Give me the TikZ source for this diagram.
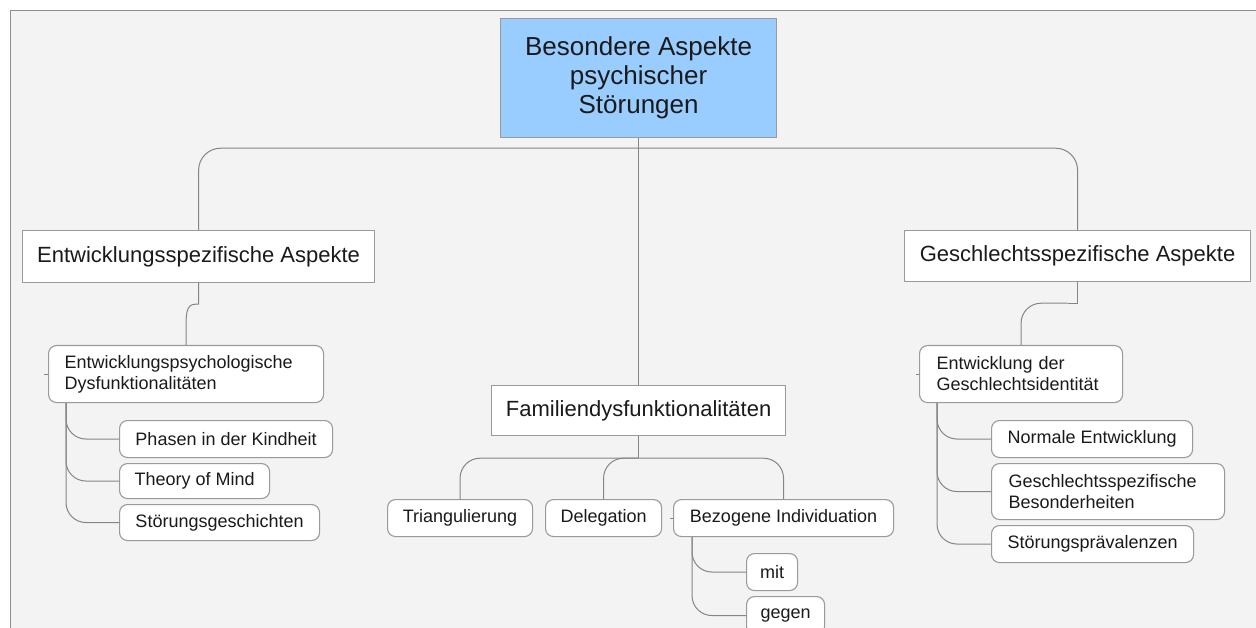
\documentclass[tikz,border=0pt]{standalone}
\usepackage{fontspec}
\setmainfont{Liberation Sans}
\usetikzlibrary{calc}
\definecolor{panel}{HTML}{F3F3F3}
\definecolor{pborder}{HTML}{8E8E8E}
\definecolor{bborder}{HTML}{9A9A9A}
\definecolor{rootfill}{HTML}{99CCFF}
\definecolor{conncol}{HTML}{858585}
\definecolor{txt}{HTML}{1A1A1A}
\tikzset{
  rootbox/.style={draw=bborder, fill=rootfill, line width=1.2pt, text=txt, inner sep=0pt,
    anchor=north west, align=center, font=\fontsize{26}{29}\selectfont},
  lvlone/.style={draw=bborder, fill=white, line width=1.2pt, text=txt, inner sep=0pt,
    anchor=north west, align=center, font=\fontsize{22}{26}\selectfont},
  lvltwo/.style={draw=bborder, fill=white, line width=1.1pt, rounded corners=8pt, text=txt,
    inner sep=0pt, anchor=north west, align=center, font=\fontsize{18}{21}\selectfont},
  twoline/.style={lvltwo, align=left, inner xsep=16pt},
  conn/.style={draw=conncol, line width=1pt},
}
\begin{document}
\begin{tikzpicture}[x=1pt,y=-1pt]
\useasboundingbox (0,0) rectangle (1256,628);
\clip (0,0) rectangle (1256,628);
\fill[white] (0,0) rectangle (1256,628);
\fill[panel] (10,11) rectangle (1260,632);
\draw[pborder, line width=1pt] (10,632) -- (10,11) -- (1260,11);

% nodes
\node[rootbox, minimum width=276pt, minimum height=119pt] (root) at (500,18)
  {Besondere Aspekte\\psychischer\\Störungen};
\node[lvlone, minimum width=352pt, minimum height=52pt] (entw) at (22,230) {Entwicklungsspezifische Aspekte};
\node[lvlone, minimum width=346pt, minimum height=51pt] (geschl) at (904,230) {Geschlechtsspezifische Aspekte};
\node[lvlone, minimum width=294pt, minimum height=50pt] (famil) at (491,385) {Familiendysfunktionalitäten};

\node[twoline, text width=243pt, minimum height=57pt] (edp) at (48,345)
  {Entwicklungspsychologische\\Dysfunktionalitäten};
\node[lvltwo, minimum width=213pt, minimum height=37pt] (phasen) at (119,420) {Phasen in der Kindheit};
\node[lvltwo, minimum width=150pt, minimum height=35pt] (tom) at (119,463) {Theory of Mind};
\node[lvltwo, minimum width=200pt, minimum height=36pt] (stg) at (119,504) {Störungsgeschichten};

\node[lvltwo, minimum width=145pt, minimum height=37pt] (tri) at (387,499) {Triangulierung};
\node[lvltwo, minimum width=116pt, minimum height=37pt] (del) at (545,499) {Delegation};
\node[lvltwo, minimum width=220pt, minimum height=37pt] (bez) at (673,499) {Bezogene Individuation};
\node[lvltwo, minimum width=51pt, minimum height=37pt] (mit) at (746,553) {mit};
\node[lvltwo, minimum width=78pt, minimum height=38pt] (gegen) at (746,596) {gegen};

\node[twoline, inner xsep=17pt, text width=169pt, minimum height=57pt] (egi) at (919,345)
  {Entwicklung der\\Geschlechtsidentität};
\node[lvltwo, minimum width=201pt, minimum height=37pt] (norm) at (991,420) {Normale Entwicklung};
\node[twoline, inner xsep=17pt, text width=199pt, minimum height=56pt] (gsb) at (991,463)
  {Geschlechtsspezifische\\Besonderheiten};
\node[lvltwo, minimum width=202pt, minimum height=37pt] (stp) at (991,525) {Störungsprävalenzen};

% connectors: root level
\draw[conn] (root.south) -- ($(root.south)+(0,10)$);
\draw[conn, rounded corners=22pt] ($(root.south)+(0,10)$) -| (entw.north);
\draw[conn, rounded corners=22pt] ($(root.south)+(0,10)$) -| (geschl.north);
\draw[conn] ($(root.south)+(0,10)$) -- (famil.north);

% Entwicklungsspezifische
\draw[conn] (entw.south) -- ++(0,21) -- ++(-3,0)
  .. controls +(-9,0) and +(0,-14) .. ($(edp.north)+(0,-18)$) -- (edp.north);
\draw[conn, rounded corners=20pt] ($(edp.south west)+(18,0)$) |- (phasen.west);
\draw[conn, rounded corners=20pt] ($(edp.south west)+(18,0)$) |- (tom.west);
\draw[conn, rounded corners=20pt] ($(edp.south west)+(18,0)$) |- (stg.west);
\draw[conn] (edp.west) -- ++(-4,0);

% Familien
\draw[conn] (famil.south) -- ($(famil.south)+(0,22)$);
\draw[conn, rounded corners=20pt] ($(famil.south)+(0,22)$) -| (tri.north);
\draw[conn, rounded corners=20pt] ($(famil.south)+(0,22)$) -| (del.north);
\draw[conn, rounded corners=20pt] ($(famil.south)+(0,22)$) -| (bez.north);
\draw[conn, rounded corners=20pt] ($(bez.south west)+(19,0)$) |- (mit.west);
\draw[conn, rounded corners=20pt] ($(bez.south west)+(19,0)$) |- (gegen.west);
\draw[conn] (bez.west) -- ++(-3,0);

% Geschlechtsspezifische
\draw[conn] (geschl.south) -- ++(0,21) -- ++(-10,0);
\draw[conn, rounded corners=20pt] ($(geschl.south)+(-10,21)$) -| (egi.north);
\draw[conn, rounded corners=20pt] ($(egi.south west)+(18,0)$) |- (norm.west);
\draw[conn, rounded corners=20pt] ($(egi.south west)+(18,0)$) |- (gsb.west);
\draw[conn, rounded corners=20pt] ($(egi.south west)+(18,0)$) |- (stp.west);
\draw[conn] (egi.west) -- ++(-3,0);
\end{tikzpicture}
\end{document}
